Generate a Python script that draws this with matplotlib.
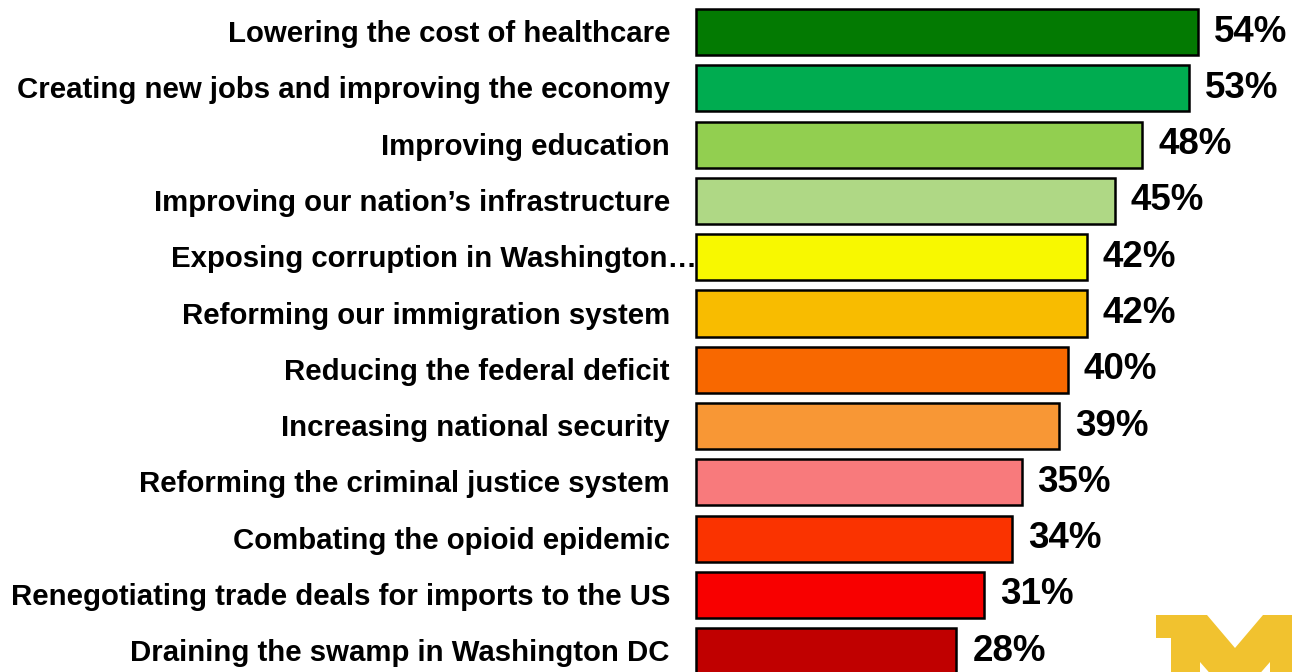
import matplotlib
matplotlib.use('Agg')
import matplotlib.pyplot as plt
from matplotlib.patches import Polygon

# data
labels = ['Lowering the cost of healthcare',
          'Creating new jobs and improving the economy',
          'Improving education',
          'Improving our nation\u2019s infrastructure',
          'Exposing corruption in Washington\u2026',
          'Reforming our immigration system',
          'Reducing the federal deficit',
          'Increasing national security',
          'Reforming the criminal justice system',
          'Combating the opioid epidemic',
          'Renegotiating trade deals for imports to the US',
          'Draining the swamp in Washington DC']
values = [54, 53, 48, 45, 42, 42, 40, 39, 35, 34, 31, 28]
colors = ['#037A02', '#00AC50', '#92CF50', '#AFD885', '#F8F800', '#F8BC00',
          '#F86800', '#F89735', '#F87A7C', '#FA3300', '#F80000', '#C00000']

W, H = 1292, 672
x0 = 696      # pixel where 0% sits
px = 9.3      # pixels per percent
pitch = 56.3  # row spacing in pixels

fig = plt.figure(figsize=(W/100, H/100), dpi=100, facecolor='white')
ax = fig.add_axes([(x0 - 4)/W, 0, 1 - (x0 - 4)/W, 1], frameon=False)

ypos = list(range(len(values)))
ax.barh(ypos, values, height=0.82, color=colors, edgecolor='black', linewidth=1.8)
ax.set_xlim(-4/px, (W - x0) / px)
ax.set_ylim((H - 32) / pitch, -32 / pitch)
ax.set_xticks([])
ax.set_yticks([])

for i, (lab, v) in enumerate(zip(labels, values)):
    off = 1 if lab.endswith('\u2026') else -26
    ax.annotate(lab, xy=(0, i), xytext=(off, -10), textcoords='offset pixels',
                ha='right', va='baseline', fontsize=21.2, fontweight='bold',
                family='Liberation Sans', annotation_clip=False)
    ax.annotate('%d%%' % v, xy=(v, i), xytext=(16, 0), textcoords='offset pixels',
                ha='left', va='center', fontsize=26.5, fontweight='bold',
                family='Liberation Sans', annotation_clip=False)

# block M logo in the corner (pixel coords, y from top)
m_pts = [(1156, 615), (1207, 615), (1235, 648), (1263, 615), (1314, 615),
         (1314, 638), (1300, 638), (1300, 720), (1270, 720), (1270, 662),
         (1235, 702), (1200, 662), (1200, 720), (1171, 720), (1171, 638),
         (1156, 638)]
m_pts = [(x / W, 1 - y / H) for x, y in m_pts]
fig.patches.append(Polygon(m_pts, closed=True, transform=fig.transFigure,
                           facecolor='#F1C22F', edgecolor='none'))

fig.savefig('out.png', dpi=100, facecolor='white')
